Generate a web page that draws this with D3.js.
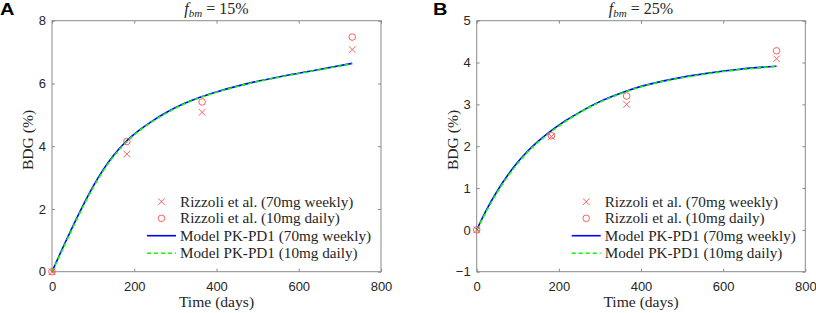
<!DOCTYPE html>
<html>
<head>
<meta charset="utf-8">
<script src="https://cdn.jsdelivr.net/npm/d3@7"></script>
<style>
  body { margin: 0; background: #fff; }
  svg { display: block; }
  .tick text { font-family: 'Liberation Sans', Arial, sans-serif; font-size: 13px; fill: #262626; }
</style>
</head>
<body>
<div class="canvas"></div>
<script>
// measured days
const studyDays = [0, 182, 365, 730]
const modelDays = [0, 25, 50, 75, 100, 125, 150, 180, 210, 240, 280, 320, 360, 400, 480, 560, 640, 730]

// panel A, f_bm = 15%
const weeklyA = [0, 3.75, 5.08, 7.08]
const dailyA = [0, 4.15, 5.41, 7.48]
const modelWeeklyA = [0, 0.73, 1.43, 2.10, 2.72, 3.26, 3.71, 4.15, 4.49, 4.77, 5.09, 5.35, 5.56, 5.73, 6.01, 6.23, 6.42, 6.64]
const modelDailyA = [0, 0.69, 1.39, 2.06, 2.68, 3.22, 3.68, 4.12, 4.47, 4.75, 5.07, 5.34, 5.55, 5.72, 6.00, 6.22, 6.41, 6.63]

// panel B, f_bm = 25%
const weeklyB = [0, 2.23, 3.00, 4.09]
const dailyB = [0, 2.25, 3.20, 4.28]
const modelWeeklyB = [0, 0.50, 0.93, 1.30, 1.62, 1.89, 2.12, 2.36, 2.57, 2.75, 2.97, 3.15, 3.30, 3.43, 3.61, 3.74, 3.84, 3.91]
const modelDailyB = [0, 0.47, 0.90, 1.27, 1.59, 1.87, 2.10, 2.34, 2.55, 2.74, 2.96, 3.14, 3.29, 3.42, 3.60, 3.73, 3.83, 3.91]

const xTicks = [0, 200, 400, 600, 800]
const yTicksA = [0, 2, 4, 6, 8]
const yTicksB = [-1, 0, 1, 2, 3, 4, 5]
const legendLabels = [
  'Rizzoli et al. (70mg weekly)',
  'Rizzoli et al. (10mg daily)',
  'Model PK-PD1 (70mg weekly)',
  'Model PK-PD1 (10mg daily)'
]

const serifFont = "'Liberation Serif', 'Times New Roman', serif"
const svg = d3.select('.canvas').append('svg')
  .attr('width', 816)
  .attr('height', 313)

function drawPanel(opt) {
  const {left, right, top, bottom} = opt
  const x = d3.scaleLinear().domain([0, 800]).range([left, right])
  const y = d3.scaleLinear().domain(opt.yDomain).range([bottom, top])
  const g = svg.append('g')
  const axisColor = '#8a8a8a'
  const fmt = d3.format('d')

  // axes, ticks inward on all sides
  const bottomAxis = g.append('g')
    .attr('transform', `translate(0,${bottom})`)
    .call(d3.axisBottom(x).tickValues(xTicks).tickFormat(fmt)
      .tickSizeInner(-3).tickSizeOuter(0).tickPadding(10))
  const leftAxis = g.append('g')
    .attr('transform', `translate(${left},0)`)
    .call(d3.axisLeft(y).tickValues(opt.yTicks).tickFormat(fmt)
      .tickSizeInner(-3).tickSizeOuter(0).tickPadding(6))
  const topAxis = g.append('g')
    .attr('transform', `translate(0,${top})`)
    .call(d3.axisTop(x).tickValues(xTicks).tickFormat('')
      .tickSizeInner(-3).tickSizeOuter(0))
  const rightAxis = g.append('g')
    .attr('transform', `translate(${right},0)`)
    .call(d3.axisRight(y).tickValues(opt.yTicks).tickFormat('')
      .tickSizeInner(-3).tickSizeOuter(0))
  ;[bottomAxis, leftAxis, topAxis, rightAxis].forEach(a => {
    a.select('.domain').remove()
    a.selectAll('.tick line').attr('stroke', axisColor)
  })

  g.append('rect')
    .attr('x', left).attr('y', top)
    .attr('width', right - left).attr('height', bottom - top)
    .attr('fill', 'none').attr('stroke', axisColor).attr('stroke-width', 1)

  // model curves
  const line = d3.line()
    .x((d, i) => x(modelDays[i]))
    .y(d => y(d))
    .curve(d3.curveMonotoneX)
  g.append('path').datum(opt.modelWeekly)
    .attr('d', line).attr('fill', 'none')
    .attr('stroke', '#0000ff').attr('stroke-width', 1.6)
  g.append('path').datum(opt.modelDaily)
    .attr('d', line).attr('fill', 'none')
    .attr('stroke', '#00ff00').attr('stroke-width', 1.6)
    .attr('stroke-dasharray', '4,3')

  // study data
  const cross = d3.symbol().type(d3.symbolX).size(30)
  g.selectAll('.cross').data(opt.weekly).enter().append('path')
    .attr('d', cross)
    .attr('transform', (d, i) => `translate(${x(studyDays[i])},${y(d)})`)
    .attr('fill', 'none').attr('stroke', '#ff4d4d').attr('stroke-width', 0.9)
  g.selectAll('.circ').data(opt.daily).enter().append('circle')
    .attr('cx', (d, i) => x(studyDays[i]))
    .attr('cy', d => y(d))
    .attr('r', 3.3)
    .attr('fill', 'none').attr('stroke', '#ff4d4d').attr('stroke-width', 0.9)

  // legend
  const lx = opt.legendX
  const rows = [201.7, 218.3, 235.7, 253.3]
  g.append('path').attr('d', cross)
    .attr('transform', `translate(${lx + 14.5},${rows[0]})`)
    .attr('fill', 'none').attr('stroke', '#ff4d4d').attr('stroke-width', 0.9)
  g.append('circle').attr('cx', lx + 14.5).attr('cy', rows[1]).attr('r', 3.3)
    .attr('fill', 'none').attr('stroke', '#ff4d4d').attr('stroke-width', 0.9)
  g.append('line').attr('x1', lx).attr('x2', lx + 29)
    .attr('y1', rows[2]).attr('y2', rows[2])
    .attr('stroke', '#0000ff').attr('stroke-width', 1.6)
  g.append('line').attr('x1', lx).attr('x2', lx + 29)
    .attr('y1', rows[3]).attr('y2', rows[3])
    .attr('stroke', '#00ff00').attr('stroke-width', 1.6)
    .attr('stroke-dasharray', '4,3')
  g.selectAll('.legtext').data(legendLabels).enter().append('text')
    .attr('font-family', serifFont).attr('fill', '#262626')
    .attr('x', lx + 33)
    .attr('y', (d, i) => rows[i])
    .attr('dy', '0.33em')
    .attr('font-size', 15.2)
    .text(d => d)

  // labels
  const cx = (left + right) / 2
  g.append('text').attr('font-family', serifFont).attr('fill', '#262626')
    .attr('x', cx).attr('y', 307)
    .attr('text-anchor', 'middle').attr('font-size', 15.6)
    .text('Time (days)')
  g.append('text').attr('font-family', serifFont).attr('fill', '#262626')
    .attr('transform', `translate(${left - 19},140) rotate(-90)`)
    .attr('text-anchor', 'middle').attr('font-size', 15.6)
    .text('BDG (%)')

  const title = g.append('text').attr('font-family', serifFont).attr('fill', '#262626')
    .attr('x', cx).attr('y', 14)
    .attr('text-anchor', 'middle').attr('font-size', 16)
  title.append('tspan').attr('font-style', 'italic').text('f')
  title.append('tspan').attr('font-style', 'italic').attr('font-size', 11)
    .attr('dy', 3).text('bm')
  title.append('tspan').attr('dy', -3).text(' = ' + opt.pct)

  svg.append('text')
    .attr('font-family', "'Liberation Sans', Arial, sans-serif")
    .attr('font-weight', 'bold').attr('font-size', 16)
    .attr('transform', `translate(${opt.letterX},15) scale(1.25,1)`)
    .attr('fill', '#000')
    .text(opt.letter)
}

drawPanel({
  left: 52, right: 381, top: 20.7, bottom: 271.7,
  yDomain: [0, 8], yTicks: yTicksA,
  weekly: weeklyA, daily: dailyA,
  modelWeekly: modelWeeklyA, modelDaily: modelDailyA,
  legendX: 147, pct: '15%', letter: 'A', letterX: 0
})
drawPanel({
  left: 476.7, right: 805.3, top: 20.7, bottom: 271.7,
  yDomain: [-1, 5], yTicks: yTicksB,
  weekly: weeklyB, daily: dailyB,
  modelWeekly: modelWeeklyB, modelDaily: modelDailyB,
  legendX: 571.7, pct: '25%', letter: 'B', letterX: 433
})
</script>
</body>
</html>
